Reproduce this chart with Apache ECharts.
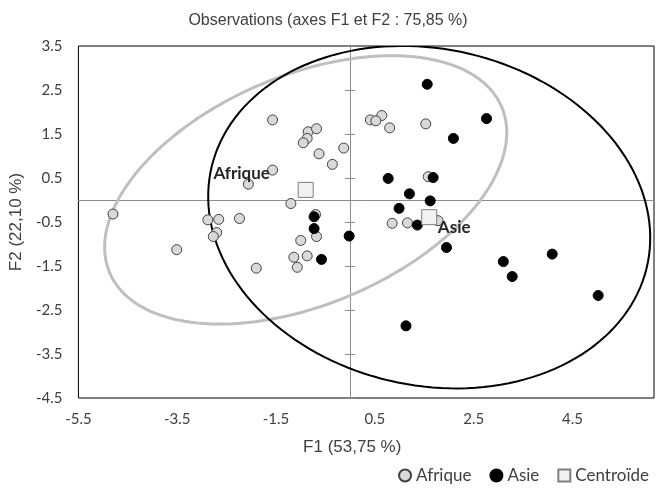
<!DOCTYPE html>
<html>
<head>
<meta charset="utf-8">
<title>Observations</title>
<script src="https://cdn.jsdelivr.net/npm/echarts@6/dist/echarts.min.js"></script>
<style>
  html, body { margin: 0; padding: 0; background: #fff; }
  #chart { width: 656px; height: 491px; }
</style>
</head>
<body>
<div id="chart"></div>
<script>
// observations [F1, F2]
const afrique = [
  [-1.57, 1.82], [-0.85, 1.55], [-0.68, 1.62], [-0.87, 1.40], [-0.95, 1.30],
  [-0.13, 1.18], [-0.63, 1.05], [-0.36, 0.81], [-1.57, 0.68], [-2.06, 0.36],
  [-1.20, -0.08], [-4.80, -0.32], [-2.88, -0.45], [-2.66, -0.44], [-2.24, -0.42],
  [-2.70, -0.74], [-2.77, -0.83], [-3.51, -1.13], [-1.90, -1.55], [-1.00, -0.92],
  [-0.68, -0.83], [-0.70, -0.33], [-1.14, -1.30], [-0.87, -1.27], [-1.07, -1.53],
  [0.41, 1.82], [0.64, 1.92], [0.52, 1.80], [0.80, 1.64], [1.53, 1.73],
  [1.58, 0.53], [0.85, -0.53], [1.16, -0.52], [1.78, -0.47]
]
const asie = [
  [-0.73, -0.38], [-0.73, -0.65], [-0.58, -1.35], [-0.02, -0.82], [0.77, 0.49],
  [1.68, 0.51], [1.20, 0.14], [1.62, -0.02], [0.99, -0.19], [1.36, -0.57],
  [1.56, 2.63], [2.76, 1.85], [2.09, 1.40], [1.95, -1.08], [3.10, -1.40],
  [3.28, -1.74], [4.09, -1.23], [5.02, -2.17], [1.13, -2.86]
]
const centroidNames = ['Afrique', 'Asie']
const centroids = [[-0.90, 0.23], [1.60, -0.39]]
// ellipses : centre F1, centre F2, demi-axe 1, demi-axe 2, angle (deg)
const ellipseAfrique = [-0.90, 0.23, 4.40, 2.55, 27.8]
const ellipseAsie = [1.60, -0.39, 4.56, 3.79, -20.4]

const labelFont = 'Lato, "Open Sans", sans-serif'
const titleFont = '"Liberation Sans", Arial, sans-serif'
const textColor = '#404040'

function ellipseRenderer (color, width) {
  return function (params, api) {
    let cx = api.value(0)
    let cy = api.value(1)
    let a = api.value(2)
    let b = api.value(3)
    let ang = api.value(4) * Math.PI / 180
    let pts = []
    for (let i = 0; i < 160; i++) {
      let t = i / 160 * 2 * Math.PI
      let dx = a * Math.cos(t)
      let dy = b * Math.sin(t)
      pts.push(api.coord([
        cx + dx * Math.cos(ang) - dy * Math.sin(ang),
        cy + dx * Math.sin(ang) + dy * Math.cos(ang)
      ]))
    }
    return {
      type: 'polygon',
      shape: { points: pts },
      style: { fill: 'none', stroke: color, lineWidth: width },
      silent: true
    }
  }
}

// label offsets for centroid names
const centroidLabelOffset = [[-64, -16], [25, 10]]

let centroidData = centroids.map(function (c, i) {
  return {
    name: centroidNames[i],
    value: c,
    label: { offset: centroidLabelOffset[i] }
  }
})

let myChart = echarts.init(document.getElementById('chart'))
myChart.setOption({
  animation: false,
  title: {
    text: 'Observations (axes F1 et F2 : 75,85 %)',
    left: 'center',
    top: 8,
    textStyle: {
      fontFamily: titleFont,
      fontSize: 16,
      fontWeight: 'normal',
      color: textColor
    }
  },
  legend: {
    data: [
      { name: 'Afrique', icon: 'circle' },
      { name: 'Asie', icon: 'circle' },
      { name: 'Centroïde', icon: 'rect' }
    ],
    right: 2,
    bottom: 2,
    itemGap: 18,
    itemWidth: 12,
    itemHeight: 12,
    textStyle: { fontFamily: labelFont, fontSize: 17, color: textColor }
  },
  grid: {
    left: 78,
    right: 2,
    top: 46,
    bottom: 93,
    show: true,
    borderColor: '#000',
    borderWidth: 1
  },
  xAxis: [
    {
      type: 'value',
      min: -5.5,
      max: 6.15,
      interval: 2,
      name: 'F1 (53,75 %)',
      nameLocation: 'middle',
      nameGap: 41,
      nameTextStyle: {
        fontFamily: titleFont,
        fontSize: 17,
        color: textColor,
        padding: [0, 28, 0, 0]
      },
      axisLine: { show: false, onZero: false },
      axisTick: { show: false },
      splitLine: { show: false },
      axisLabel: {
        showMaxLabel: false,
        margin: 14,
        fontFamily: labelFont,
        fontSize: 15,
        color: textColor,
        formatter: function (v) { return v.toFixed(1) }
      }
    },
    {
      type: 'value',
      min: -5.5,
      max: 6.15,
      axisLine: { show: true, onZero: true, onZeroAxisIndex: 0, lineStyle: { color: '#8c8c8c', width: 1 } },
      axisTick: { show: false },
      axisLabel: { show: false },
      splitLine: { show: false }
    }
  ],
  yAxis: [
    {
      type: 'value',
      min: -4.5,
      max: 3.5,
      interval: 1,
      name: 'F2 (22,10 %)',
      nameLocation: 'middle',
      nameGap: 44,
      nameTextStyle: {
        fontFamily: titleFont,
        fontSize: 17,
        color: textColor
      },
      axisLine: { show: false, onZero: false },
      axisTick: { show: false },
      splitLine: { show: false },
      axisLabel: {
        margin: 16,
        fontFamily: labelFont,
        fontSize: 15,
        color: textColor,
        formatter: function (v) { return v.toFixed(1) }
      }
    },
    {
      type: 'value',
      min: -4.5,
      max: 3.5,
      interval: 1,
      axisLine: { show: true, onZero: true, onZeroAxisIndex: 0, lineStyle: { color: '#8c8c8c', width: 1 } },
      axisTick: { show: true, inside: false, length: 5, lineStyle: { color: '#8c8c8c' } },
      axisLabel: { show: false },
      splitLine: { show: false }
    },
    {
      type: 'value',
      min: -4.5,
      max: 3.5,
      interval: 1,
      axisLine: { show: false, onZero: true, onZeroAxisIndex: 0 },
      axisTick: { show: true, inside: true, length: 5, lineStyle: { color: '#8c8c8c' } },
      axisLabel: { show: false },
      splitLine: { show: false }
    }
  ],
  series: [
    {
      name: 'ellipseAfrique',
      type: 'custom',
      renderItem: ellipseRenderer('#bfbfbf', 3),
      data: [ellipseAfrique],
      encode: { x: 0, y: 1 },
      clip: true,
      z: 1
    },
    {
      name: 'ellipseAsie',
      type: 'custom',
      renderItem: ellipseRenderer('#000', 2),
      data: [ellipseAsie],
      encode: { x: 0, y: 1 },
      clip: true,
      z: 1
    },
    {
      name: 'Afrique',
      type: 'scatter',
      data: afrique,
      symbol: 'circle',
      symbolSize: 10,
      itemStyle: { color: '#d9d9d9', borderColor: '#404040', borderWidth: 1, opacity: 1 },
      z: 2
    },
    {
      name: 'Asie',
      type: 'scatter',
      data: asie,
      symbol: 'circle',
      symbolSize: 10,
      itemStyle: { color: '#000', borderColor: '#000', borderWidth: 1, opacity: 1 },
      z: 3
    },
    {
      name: 'Centroïde',
      type: 'scatter',
      data: centroidData,
      symbol: 'rect',
      symbolSize: 15,
      itemStyle: { color: '#f2f2f2', borderColor: '#7f7f7f', borderWidth: 1, opacity: 1 },
      label: {
        show: true,
        position: 'inside',
        formatter: '{b}',
        fontFamily: labelFont,
        fontWeight: 'bold',
        fontSize: 17,
        color: '#262626'
      },
      z: 4
    }
  ]
})
window.onresize = function () {
  myChart.resize()
}
</script>
</body>
</html>
